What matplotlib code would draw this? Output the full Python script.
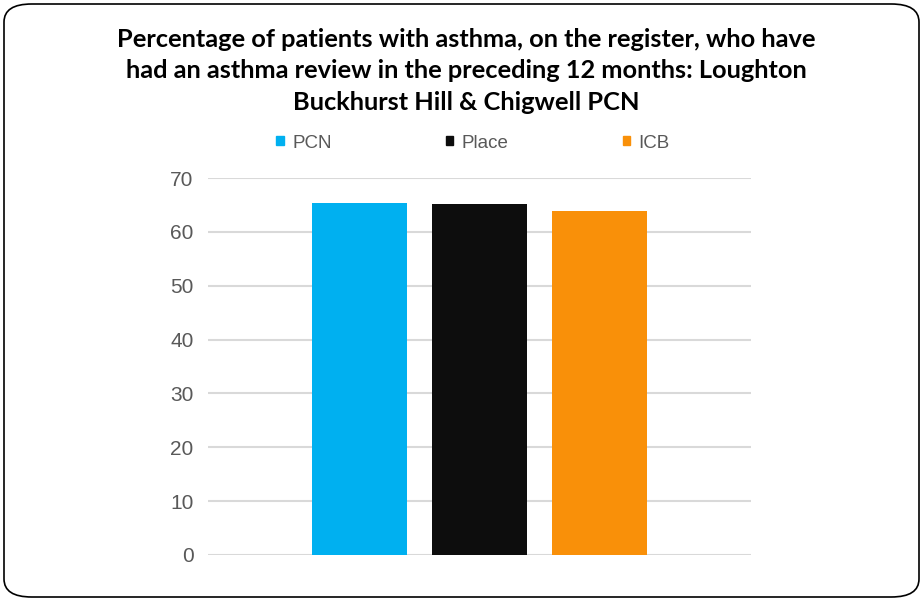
import matplotlib.pyplot as plt
from matplotlib.patches import FancyBboxPatch, Patch

# values
series = ['PCN', 'Place', 'ICB']
values = [65.4, 65.2, 63.9]
colours = ['#00b0f0', '#0d0d0d', '#f99009']
yticks = [0, 10, 20, 30, 40, 50, 60, 70]

title = ('Percentage of patients with asthma, on the register, who have\n'
         'had an asthma review in the preceding 12 months: Loughton\n'
         'Buckhurst Hill & Chigwell PCN')

fig = plt.figure(figsize=(9.23, 6.01), dpi=100)
ax = fig.add_axes([208/923, 1-555/601, (751-208)/923, (555-178)/601])

xpos = list(range(len(series)))
ax.bar(xpos, values, width=0.79, color=colours, zorder=3)

ax.set_ylim(0, 70)
ax.set_xlim(-1.2625, 3.2625)
ax.set_yticks(yticks)
ax.set_yticklabels([str(t) for t in yticks], fontsize=15, color='#595959',
                   family='Liberation Sans')
ax.set_xticks([])
ax.tick_params(axis='y', length=0, pad=10.5)
ax.grid(axis='y', color='#d9d9d9', linewidth=1.5, zorder=0)
for s in ax.spines.values():
    s.set_visible(False)

handles = [Patch(color=c, label=l) for c, l in zip(colours, series)]
leg = fig.legend(handles=handles, loc='center', bbox_to_anchor=(473/923, 1-143/601),
                 ncol=3, frameon=False, handlelength=0.38, handleheight=0.38,
                 handletextpad=0.45, columnspacing=6.1,
                 prop={'family': 'Liberation Sans', 'size': 13.5})
for t in leg.get_texts():
    t.set_color('#595959')

fig.text(466/923, 1-71/601, title, ha='center', va='center', fontsize=18.3,
         fontweight='bold', family='Lato', linespacing=1.45, color='#000000')

border = FancyBboxPatch((4/923, 4/601), 915/923, 593/601,
                        boxstyle='round,pad=0,rounding_size=0.03',
                        transform=fig.transFigure, fill=False,
                        edgecolor='#000000', linewidth=1.2)
fig.patches.append(border)

fig.savefig('out.png', dpi=100)
